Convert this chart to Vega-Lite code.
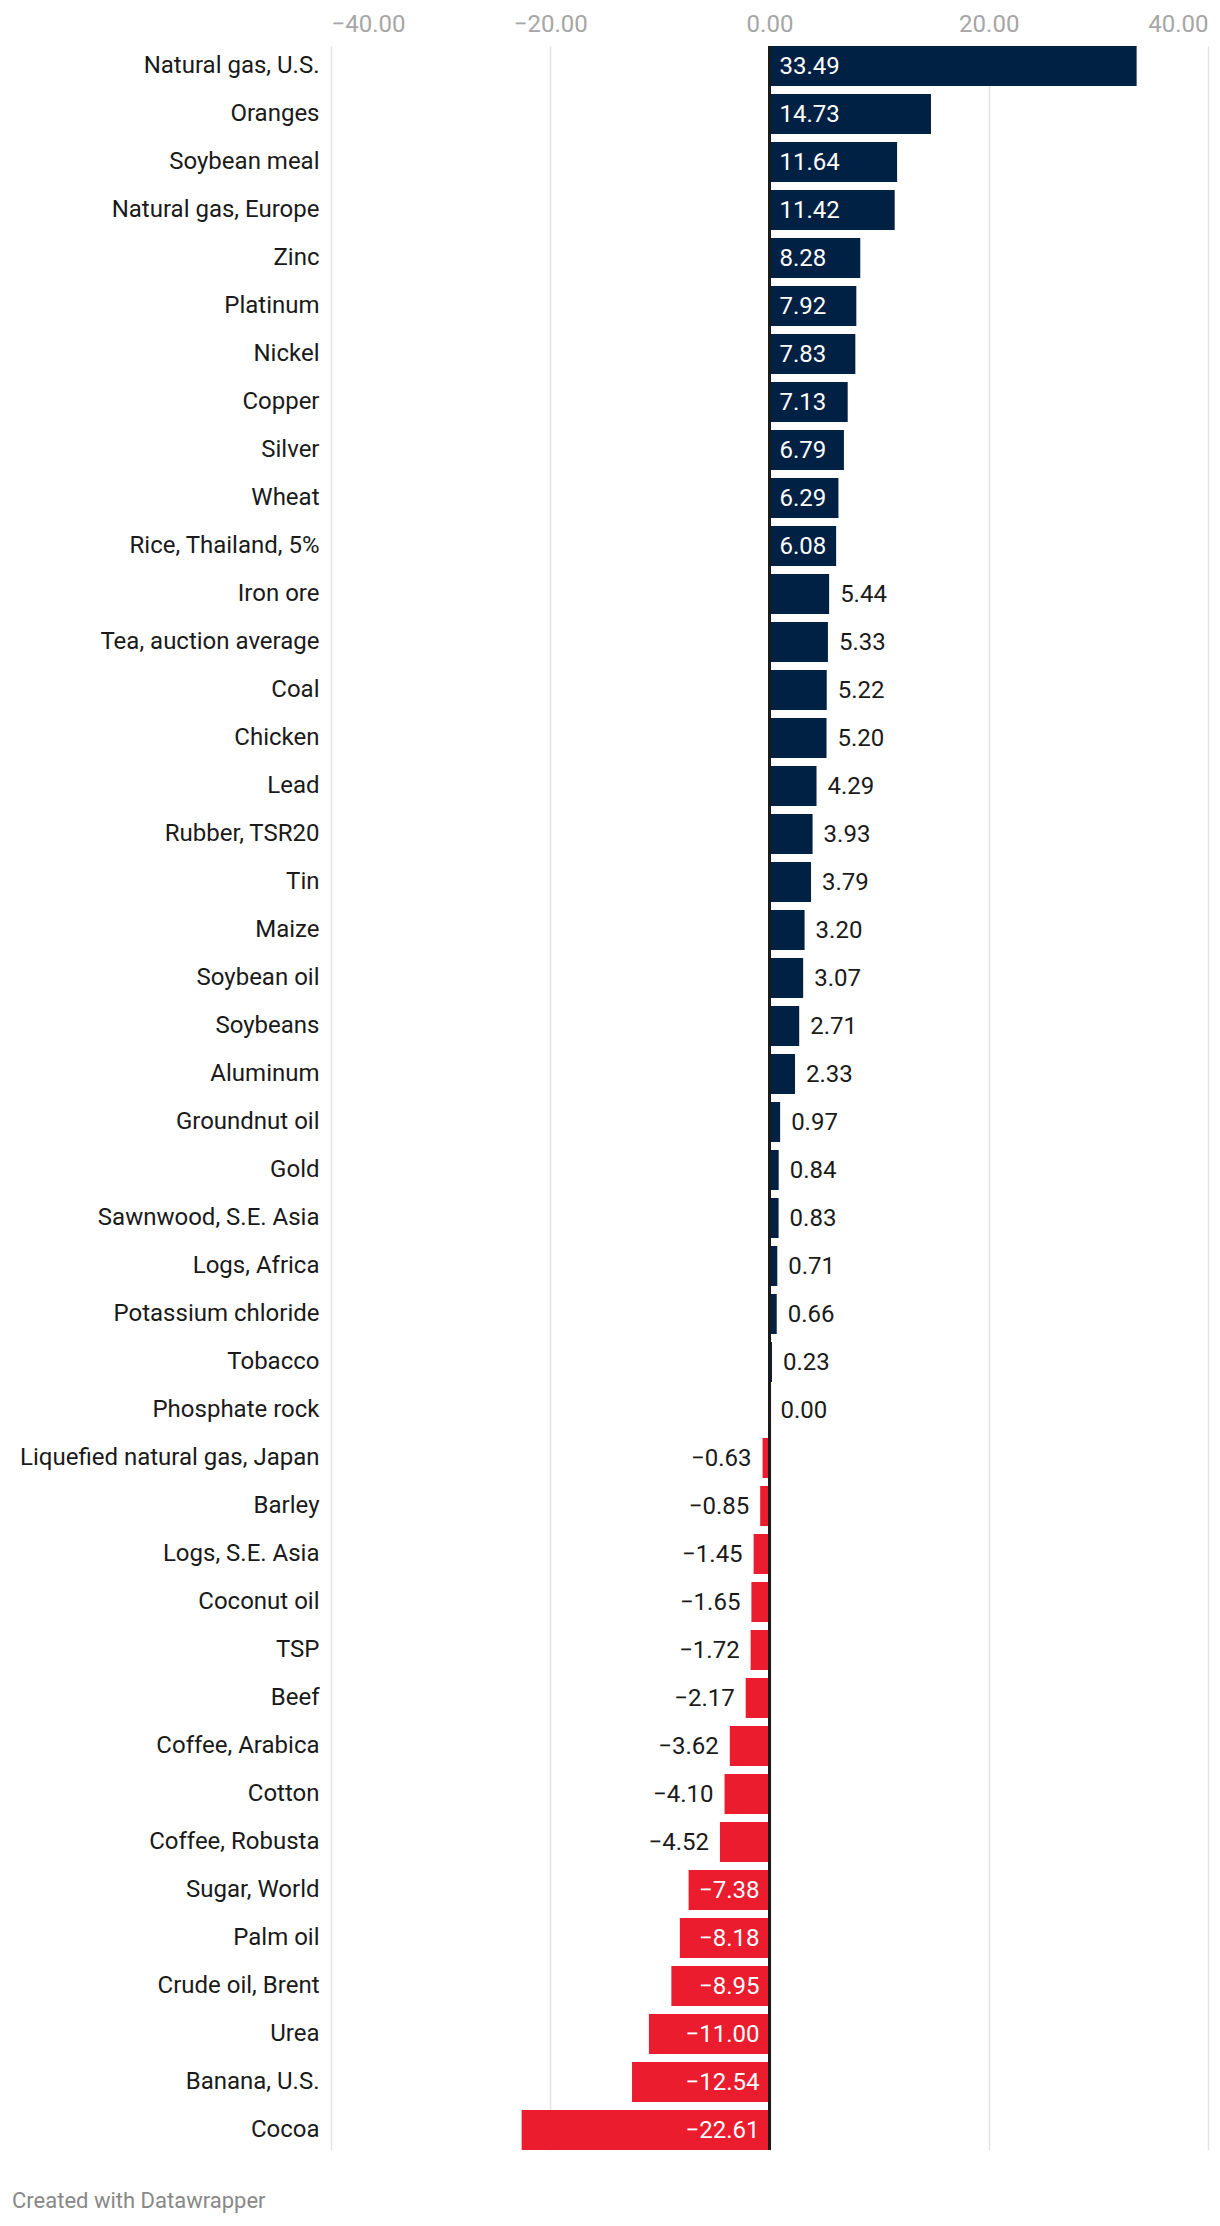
{
  "$schema": "https://vega.github.io/schema/vega-lite/v6.json",
  "width": 877,
  "height": 2104,
  "autosize": {"type": "none"},
  "padding": {"left": 331, "top": 46, "right": 12, "bottom": 76},
  "background": "white",
  "title": {
    "text": "Created with Datawrapper",
    "orient": "bottom",
    "anchor": "start",
    "frame": "group",
    "dx": -319,
    "offset": 40,
    "font": "Roboto",
    "fontSize": 22,
    "fontWeight": "normal",
    "color": "#888888"
  },
  "data": {
    "values": [
      {"commodity": "Natural gas, U.S.", "value": 33.49},
      {"commodity": "Oranges", "value": 14.73},
      {"commodity": "Soybean meal", "value": 11.64},
      {"commodity": "Natural gas, Europe", "value": 11.42},
      {"commodity": "Zinc", "value": 8.28},
      {"commodity": "Platinum", "value": 7.92},
      {"commodity": "Nickel", "value": 7.83},
      {"commodity": "Copper", "value": 7.13},
      {"commodity": "Silver", "value": 6.79},
      {"commodity": "Wheat", "value": 6.29},
      {"commodity": "Rice, Thailand, 5%", "value": 6.08},
      {"commodity": "Iron ore", "value": 5.44},
      {"commodity": "Tea, auction average", "value": 5.33},
      {"commodity": "Coal", "value": 5.22},
      {"commodity": "Chicken", "value": 5.20},
      {"commodity": "Lead", "value": 4.29},
      {"commodity": "Rubber, TSR20", "value": 3.93},
      {"commodity": "Tin", "value": 3.79},
      {"commodity": "Maize", "value": 3.20},
      {"commodity": "Soybean oil", "value": 3.07},
      {"commodity": "Soybeans", "value": 2.71},
      {"commodity": "Aluminum", "value": 2.33},
      {"commodity": "Groundnut oil", "value": 0.97},
      {"commodity": "Gold", "value": 0.84},
      {"commodity": "Sawnwood, S.E. Asia", "value": 0.83},
      {"commodity": "Logs, Africa", "value": 0.71},
      {"commodity": "Potassium chloride", "value": 0.66},
      {"commodity": "Tobacco", "value": 0.23},
      {"commodity": "Phosphate rock", "value": 0.00},
      {"commodity": "Liquefied natural gas, Japan", "value": -0.63},
      {"commodity": "Barley", "value": -0.85},
      {"commodity": "Logs, S.E. Asia", "value": -1.45},
      {"commodity": "Coconut oil", "value": -1.65},
      {"commodity": "TSP", "value": -1.72},
      {"commodity": "Beef", "value": -2.17},
      {"commodity": "Coffee, Arabica", "value": -3.62},
      {"commodity": "Cotton", "value": -4.10},
      {"commodity": "Coffee, Robusta", "value": -4.52},
      {"commodity": "Sugar, World", "value": -7.38},
      {"commodity": "Palm oil", "value": -8.18},
      {"commodity": "Crude oil, Brent", "value": -8.95},
      {"commodity": "Urea", "value": -11.00},
      {"commodity": "Banana, U.S.", "value": -12.54},
      {"commodity": "Cocoa", "value": -22.61}
    ]
  },
  "encoding": {
    "y": {
      "field": "commodity",
      "type": "nominal",
      "sort": null,
      "scale": {"paddingInner": 0.167, "paddingOuter": 0},
      "axis": {
        "title": null,
        "domain": false,
        "ticks": false,
        "tickSize": 0,
        "labelPadding": 12,
        "labelFont": "Roboto",
        "labelFontSize": 24,
        "labelColor": "#1a1a1a",
        "labelLimit": 400,
        "grid": false
      }
    },
    "x": {
      "field": "value",
      "type": "quantitative",
      "scale": {"domain": [-40, 40], "nice": false, "zero": false},
      "axis": {
        "orient": "top",
        "title": null,
        "values": [-40, -20, 0, 20, 40],
        "format": ".2f",
        "domain": false,
        "ticks": false,
        "tickSize": 0,
        "labelPadding": 15,
        "labelBaseline": "alphabetic",
        "labelFont": "Roboto",
        "labelFontSize": 24,
        "labelColor": "#a6a6a6",
        "grid": true,
        "gridColor": "#e3e3e3",
        "gridWidth": 1.5
      }
    }
  },
  "layer": [
    {
      "mark": {"type": "bar"},
      "encoding": {
        "x": {"datum": 0},
        "x2": {"field": "value"},
        "color": {
          "condition": {"test": "datum.value < 0", "value": "#ea1c2e"},
          "value": "#012144"
        }
      }
    },
    {
      "mark": {"type": "rule", "color": "#1a1a1a", "strokeWidth": 2},
      "encoding": {"x": {"datum": 0}, "y": null}
    },
    {
      "transform": [{"filter": "datum.value >= 6"}],
      "mark": {"type": "text", "align": "left", "baseline": "middle", "dx": 10, "dy": 1, "font": "Roboto", "fontSize": 24, "color": "#ffffff"},
      "encoding": {"x": {"datum": 0}, "text": {"field": "value", "type": "quantitative", "format": ".2f"}}
    },
    {
      "transform": [{"filter": "datum.value >= 0 && datum.value < 6"}],
      "mark": {"type": "text", "align": "left", "baseline": "middle", "dx": 11, "dy": 1, "font": "Roboto", "fontSize": 24, "color": "#1a1a1a"},
      "encoding": {"text": {"field": "value", "type": "quantitative", "format": ".2f"}}
    },
    {
      "transform": [{"filter": "datum.value <= -7"}],
      "mark": {"type": "text", "align": "right", "baseline": "middle", "dx": -10, "dy": 1, "font": "Roboto", "fontSize": 24, "color": "#ffffff"},
      "encoding": {"x": {"datum": 0}, "text": {"field": "value", "type": "quantitative", "format": ".2f"}}
    },
    {
      "transform": [{"filter": "datum.value < 0 && datum.value > -7"}],
      "mark": {"type": "text", "align": "right", "baseline": "middle", "dx": -11, "dy": 1, "font": "Roboto", "fontSize": 24, "color": "#1a1a1a"},
      "encoding": {"text": {"field": "value", "type": "quantitative", "format": ".2f"}}
    }
  ],
  "config": {
    "view": {"stroke": null},
    "font": "Roboto"
  }
}
